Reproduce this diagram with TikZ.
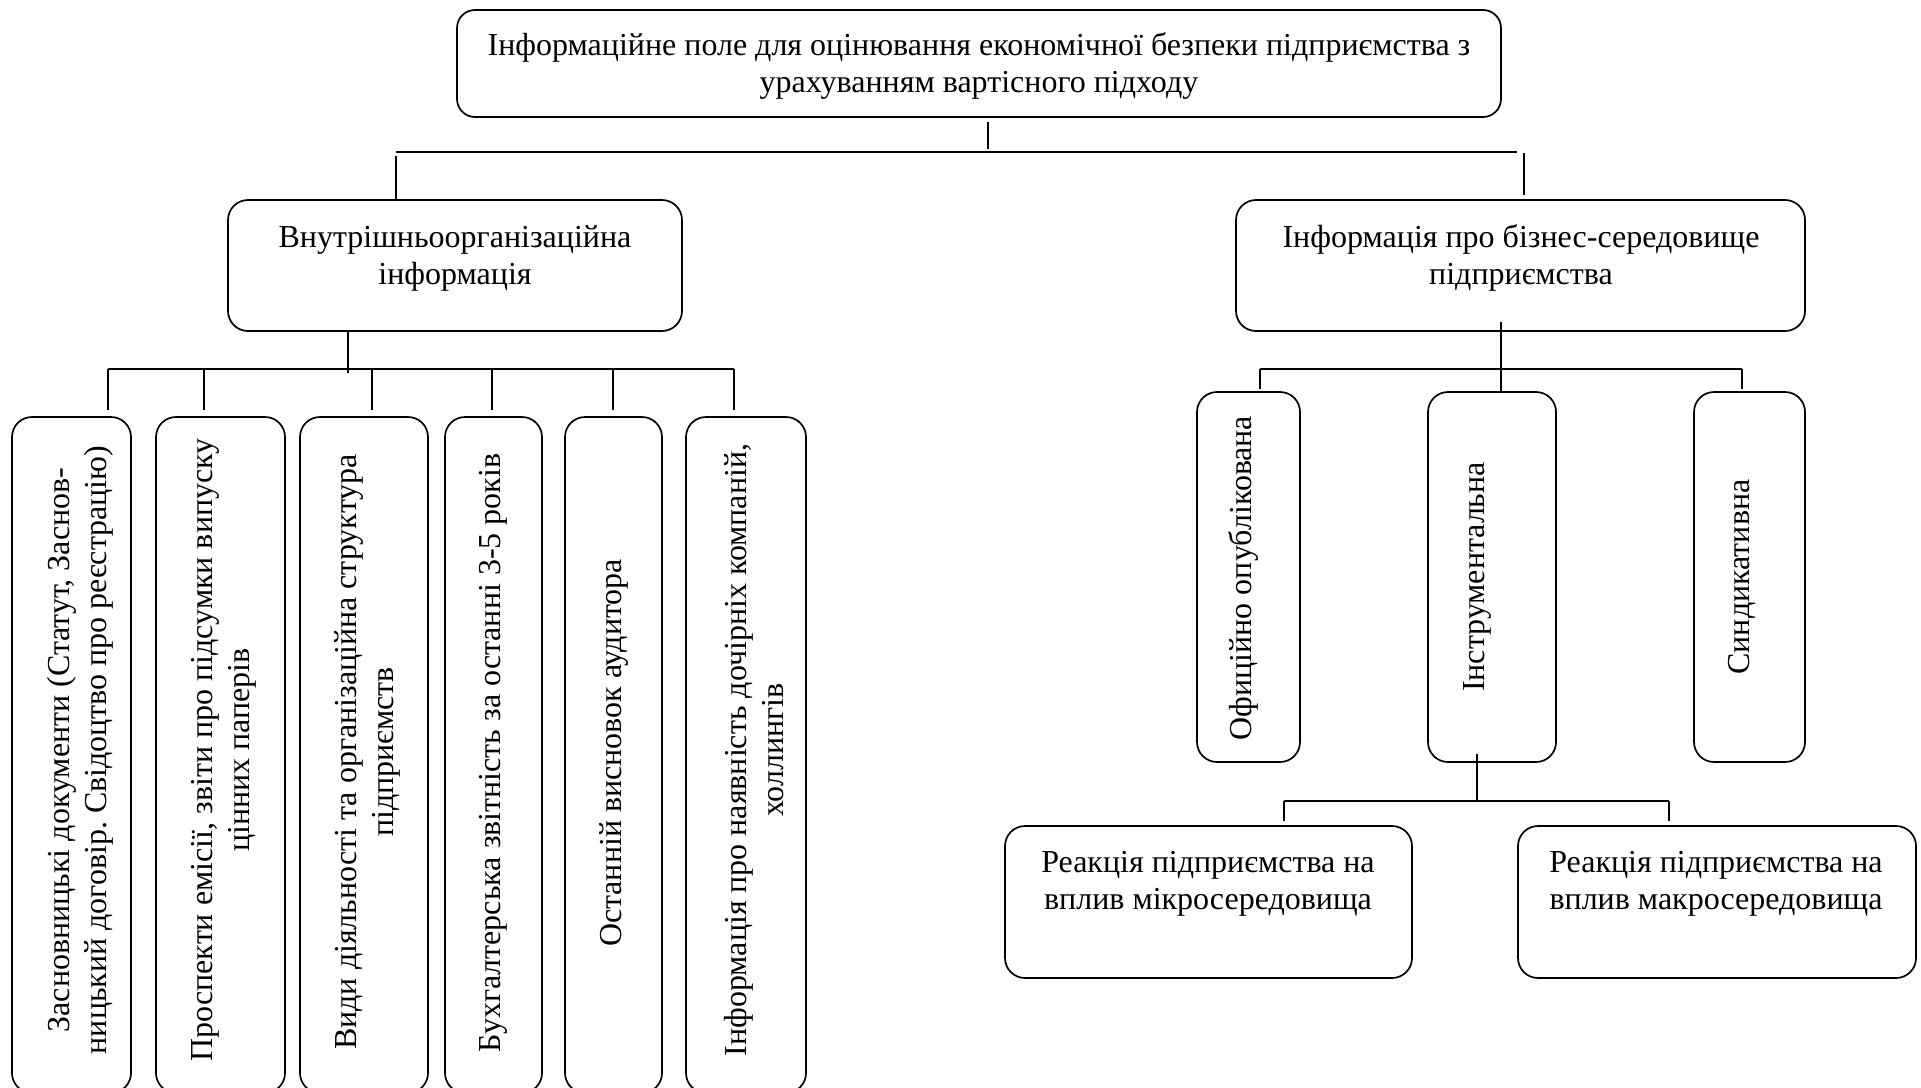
\documentclass[tikz,border=0pt]{standalone}
\usepackage{fontspec}
\setmainfont{Liberation Serif}
\usetikzlibrary{fit,calc}
\frenchspacing
\begin{document}
\begin{tikzpicture}[x=1pt,y=-1pt,
  box/.style={draw, line width=1.7pt, rounded corners=20pt, inner sep=0pt},
  txt/.style={font=\fontsize{32}{37}\selectfont, align=center, inner sep=0pt},
  vtxt/.style={txt, rotate=90},
  link/.style={line width=1.5pt}]
\useasboundingbox (0,0) rectangle (1921,1087);

% ---------- boxes ----------
\node[box, rounded corners=18pt, fit={(457,10) (1501,117)}] (root) {};
\node[box, fit={(228,200) (682,331)}] (intl) {};
\node[box, fit={(1236,200) (1805,331)}] (ext) {};

% the tall boxes run on past the lower edge of the page
\node[box, fit={(12,417) (131,1093)}] (b1) {};
\node[box, fit={(156,417) (285,1093)}] (b2) {};
\node[box, fit={(300,417) (428,1093)}] (b3) {};
\node[box, fit={(445,417) (542,1093)}] (b4) {};
\node[box, fit={(565,417) (662,1093)}] (b5) {};
\node[box, fit={(686,417) (806,1093)}] (b6) {};

\node[box, fit={(1197,392) (1300,762)}] (off) {};
\node[box, fit={(1428,392) (1556,762)}] (ins) {};
\node[box, fit={(1694,392) (1805,762)}] (syn) {};

\node[box, fit={(1005,826) (1412,978)}] (micro) {};
\node[box, fit={(1518,826) (1916,978)}] (macro) {};

% ---------- texts ----------
\node[txt] (root-t) at (979,66) {Інформаційне поле для оцінювання економічної безпеки підприємства з\\урахуванням вартісного підходу};
\node[txt] (intl-t) at (455,258) {Внутрішньоорганізаційна\\інформація};
\node[txt] (ext-t) at (1521,258) {Інформація про бізнес-середовище\\підприємства};

\node[vtxt] (b1-t) at (80,750) {Засновницькі документи (Статут, Заснов-\\ницький договір. Свідоцтво про реєстрацію)};
\node[vtxt] (b2-t) at (224,750) {Проспекти емісії, звіти про підсумки випуску\\цінних паперів};
\node[vtxt] (b3-t) at (367,752) {Види діяльності та організаційна структура\\підприємств};
\node[vtxt] (b4-t) at (493,753) {Бухгалтерська звітність за останні 3-5 років};
\node[vtxt] (b5-t) at (614,753) {Останній висновок аудитора};
\node[vtxt] (b6-t) at (754,750) {Інформація про наявність дочірніх компаній,\\холлингів};

\node[vtxt] (off-t) at (1243,578) {Офиційно опублікована};
\node[vtxt] (ins-t) at (1477,577) {Інструментальна};
\node[vtxt] (syn-t) at (1742,577) {Синдикативна};

\node[txt] (micro-t) at (1208,884) {Реакція підприємства на\\вплив мікросередовища};
\node[txt] (macro-t) at (1716,884) {Реакція підприємства на\\вплив макросередовища};

% ---------- bus junctions ----------
\coordinate (topL) at (396,152);
\coordinate (topR) at (1517,152);
\coordinate (topJ) at (988,149);
\coordinate (lowL) at (108,369);
\coordinate (lowR) at (734,369);
\coordinate (lowJ) at (348,373);
\coordinate (rgtL) at (1260,369);
\coordinate (rgtR) at (1742,369);
\coordinate (botL) at (1284,801);
\coordinate (botR) at (1669,801);

% ---------- connectors: first level ----------
\draw[link] ($(root.south -| topJ)+(0,4)$) -- (topJ);
\draw[link] (topL) -- (topR);
\draw[link] ($(topL)+(0,4)$) -- (intl.north -| topL);
\draw[link] ($(topR)+(7,1)$) -- ($(ext.north -| topR)+(7,-4)$);

% ---------- connectors: internal information ----------
\draw[link] (intl.south -| lowJ) -- (lowJ);
\draw[link] (lowL) -- (lowR);
\foreach \b/\x in {b1/108,b2/204,b3/372,b4/492,b5/613,b6/734}
  \draw[link] (\x,369) -- ($(\b.north -| \x,0)+(0,-6)$);

% ---------- connectors: business environment ----------
\draw[link] ($(ext.south -| 1501,0)+(0,-10)$) -- (ins.north -| 1501,0);
\draw[link] (rgtL) -- (rgtR);
\draw[link] (rgtL) -- ($(off.north -| rgtL)+(0,-2)$);
\draw[link] (rgtR) -- ($(syn.north -| rgtR)+(0,-2)$);

% ---------- connectors: instrumental ----------
\draw[link] ($(ins.south -| 1477,0)+(0,-9)$) -- (1477,801);
\draw[link] (botL) -- (botR);
\draw[link] (botL) -- ($(micro.north -| botL)+(0,-4)$);
\draw[link] (botR) -- ($(macro.north -| botR)+(0,-4)$);
\end{tikzpicture}
\end{document}
